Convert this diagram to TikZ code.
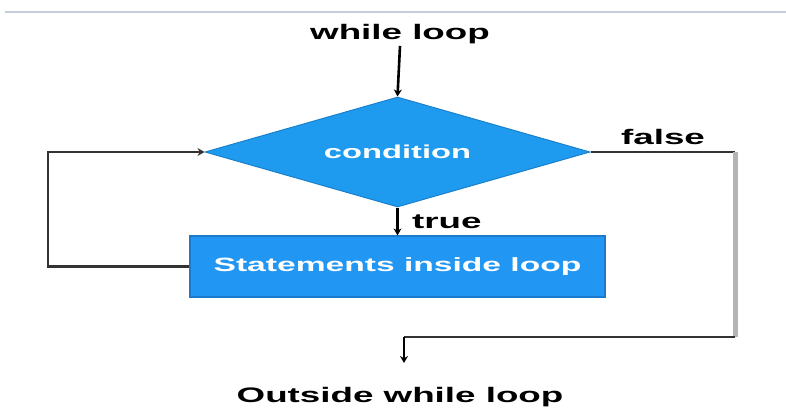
\documentclass[tikz,border=0pt]{standalone}
\usepackage{fontspec}
\newfontfamily\lab[FakeStretch=1.75]{Liberation Sans Bold}
\usetikzlibrary{shapes.geometric,arrows.meta}
\definecolor{diafill}{HTML}{1E9BEF}
\definecolor{diaedge}{HTML}{1A80CC}
\definecolor{boxfill}{HTML}{2196F3}
\definecolor{boxedge}{HTML}{1B7ACB}
\definecolor{linegrey}{HTML}{333333}
\definecolor{railgrey}{HTML}{B4B4B4}
\definecolor{topline}{HTML}{C5CED8}
\begin{document}
\begin{tikzpicture}[x=1pt,y=-1pt,
  lbl/.style={font=\lab\fontsize{21}{24}\selectfont, text=black, inner sep=2pt},
  decision/.style={diamond, aspect=3.5, fill=diafill, draw=diaedge, line width=1pt,
    minimum width=385pt, minimum height=110pt, inner sep=0pt,
    text=white, font=\lab\fontsize{18.7}{22}\selectfont},
  stepbox/.style={rectangle, fill=boxfill, draw=boxedge, line width=1.2pt,
    minimum width=415pt, minimum height=61pt, inner sep=0pt,
    text=white, font=\lab\fontsize{19.2}{22}\selectfont},
  arr/.style={draw=black, line width=2.6pt, -{Stealth[length=7pt,width=8pt]}},
  conn/.style={draw=linegrey, line width=2.4pt},
  rail/.style={draw=railgrey, line width=5pt}]
\useasboundingbox (0,0) rectangle (786,412);
\draw[topline, line width=2pt] (5,12.5) -- (786,12.5);

\node[lbl] (top) at (400,34) {while loop};
\node[decision] (cond) at (397.5,152) {condition};
\node[stepbox] (stm) at (397.5,266.5) {Statements inside loop};
\node[lbl, anchor=west] (true) at (410,222) {true};
\node[lbl] (false) at (663,137) {false};
\node[lbl] (out) at (400,397) {Outside while loop};

\coordinate (lb) at (48,266.5);
\coordinate (c1) at (735,152);
\coordinate (c2) at (735,337);
\coordinate (c3) at (404,337);
\coordinate (c4) at (404,363);

\draw[arr] (top.south) -- (cond.north);
\draw[arr] (cond.south) -- (stm.north);
\draw[conn, -{Stealth[length=7pt,width=8pt]}] (stm.west) -- (lb) |- (cond.west);
\draw[conn] (cond.east) -- (c1);
\draw[rail] (c1) -- (c2);
\draw[conn] (c2) -- (c3);
\draw[arr] (c3) -- (c4);
\end{tikzpicture}
\end{document}
